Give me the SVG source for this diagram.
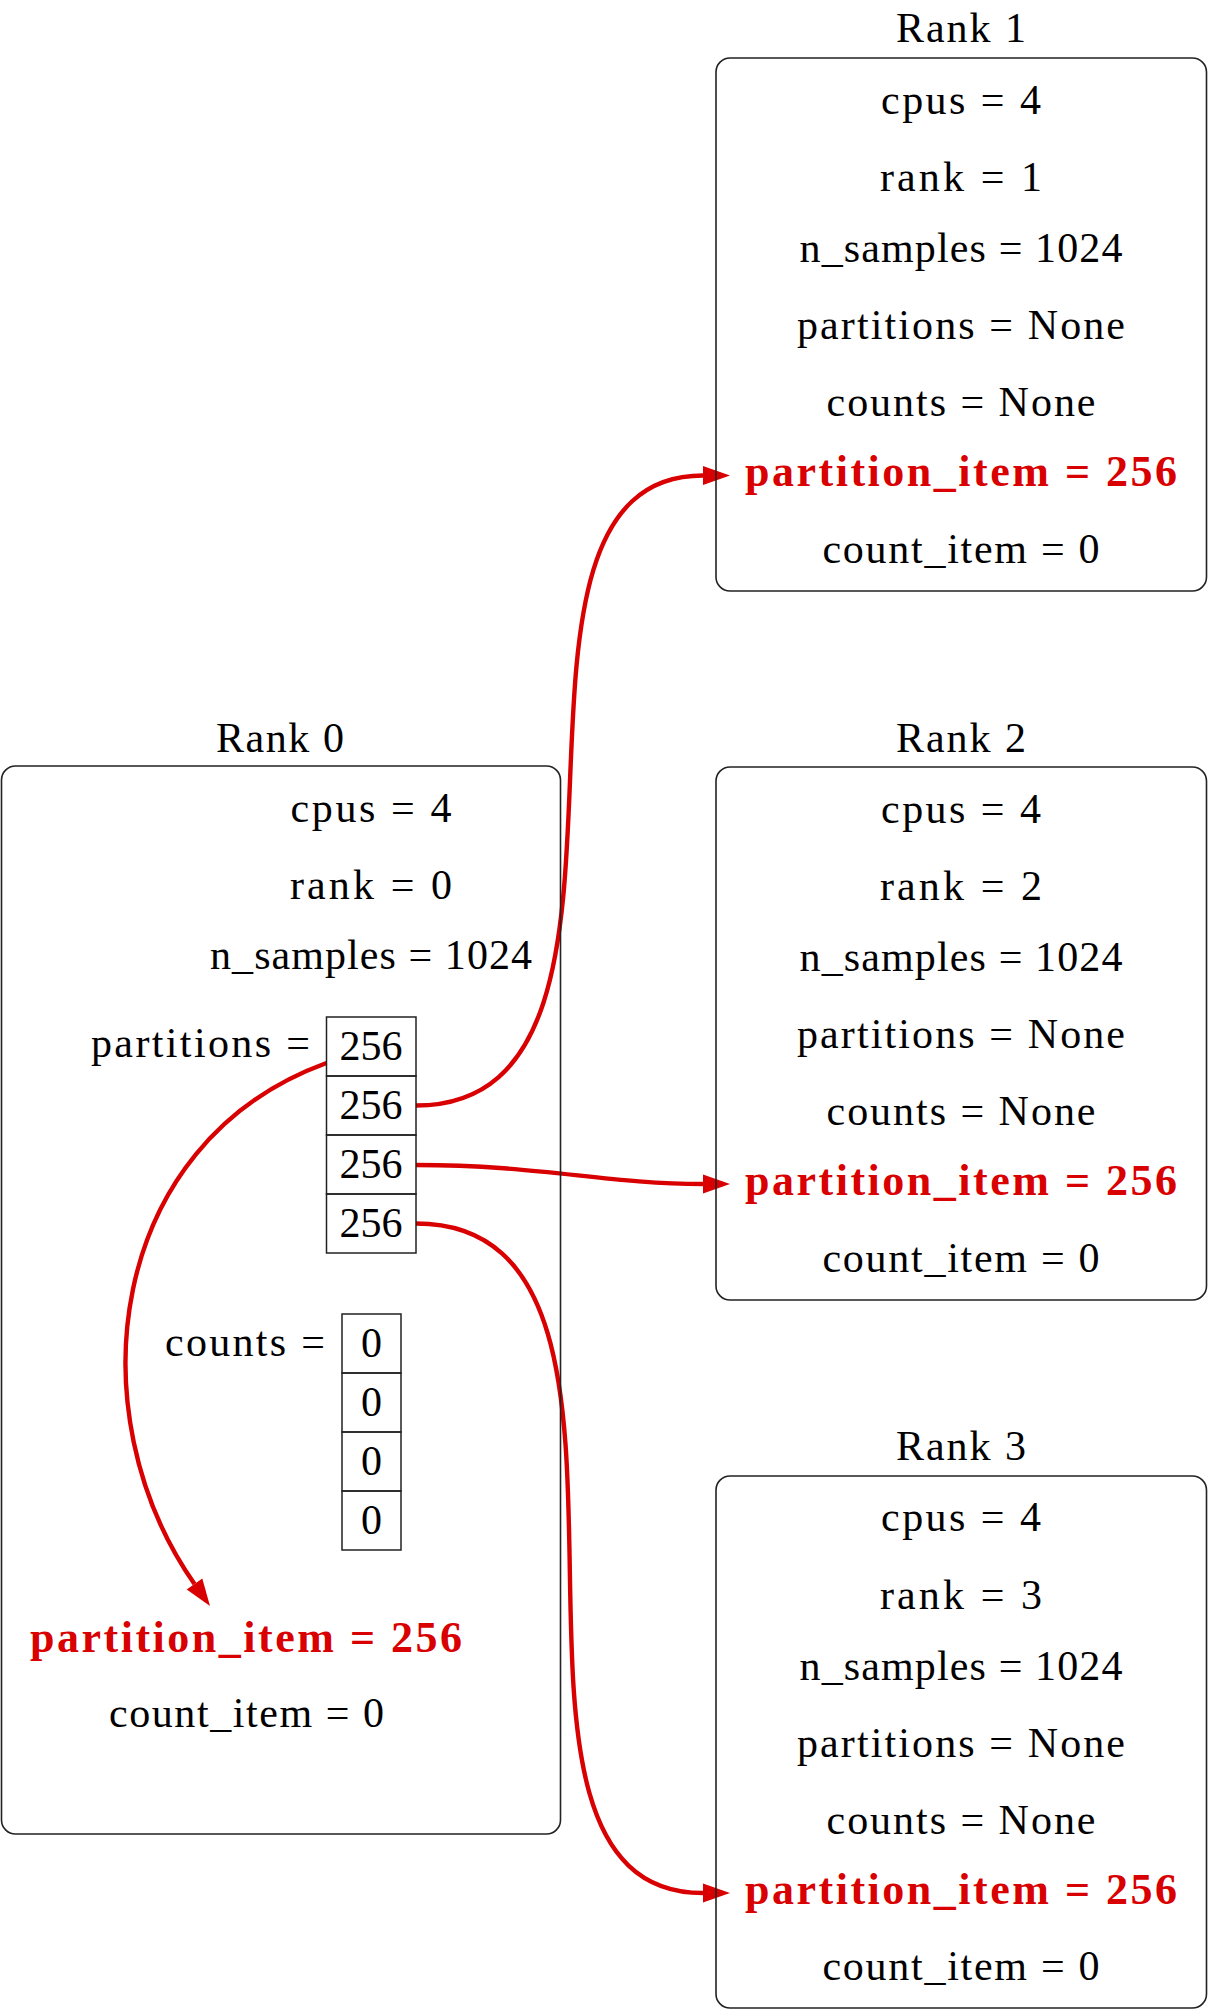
<svg xmlns="http://www.w3.org/2000/svg" width="1208" height="2010" viewBox="0 0 1208 2010">
  <style>
    .t { font-family: "Liberation Serif", "Times New Roman", serif; font-size: 42px; fill: #000; text-anchor: middle; }
    .hi { font-weight: bold; font-size: 44px; fill: #d80000; }
    .box { fill: none; stroke: #222; stroke-width: 1.6; }
    .cell { fill: none; stroke: #222; stroke-width: 1.5; }
    .arrow { fill: none; stroke: #d80000; stroke-width: 4.4; marker-end: url(#head); }
  </style>
  <defs>
    <marker id="head" markerUnits="userSpaceOnUse" markerWidth="30" markerHeight="22" refX="0" refY="9.5" orient="auto" overflow="visible">
      <path d="M0,0 L27,9.5 L0,19 Z" fill="#d80000"/>
    </marker>
  </defs>

  <rect width="1208" height="2010" fill="#fff"/>

  <!-- scatter of partitions: rank 0 array cells to each rank's partition_item -->
  <g id="connectors">
    <path class="arrow" d="M326.5,1063 C105.6,1143.4 75.1,1413.5 194.5,1584"/>
    <path class="arrow" d="M416,1105.5 C691,1105.5 455,475.5 703,475.5"/>
    <path class="arrow" d="M416,1165 C539,1165 607,1184 703,1184"/>
    <path class="arrow" d="M416,1223.5 C705.5,1223.5 440.5,1893 703,1893"/>
  </g>

  <!-- rank 0: root process holding the full arrays -->
  <g id="rank0">
    <text class="t" x="280" y="752" textLength="128" lengthAdjust="spacing">Rank 0</text>
    <rect class="box" x="1.5" y="766" width="559" height="1068" rx="14"/>
    <text class="t" x="371" y="822" textLength="161" lengthAdjust="spacing">cpus = 4</text>
    <text class="t" x="371" y="899" textLength="162" lengthAdjust="spacing">rank = 0</text>
    <text class="t" x="371" y="969" textLength="322" lengthAdjust="spacing">n_samples = 1024</text>
    <text class="t" x="200.5" y="1057" textLength="219" lengthAdjust="spacing">partitions =</text>
    <g id="rank0-partitions">
      <rect class="cell" x="326.5" y="1017" width="89.5" height="59"/>
      <rect class="cell" x="326.5" y="1076" width="89.5" height="59"/>
      <rect class="cell" x="326.5" y="1135" width="89.5" height="59"/>
      <rect class="cell" x="326.5" y="1194" width="89.5" height="59"/>
      <text class="t" x="371" y="1060">256</text>
      <text class="t" x="371" y="1119">256</text>
      <text class="t" x="371" y="1178">256</text>
      <text class="t" x="371" y="1237">256</text>
    </g>
    <text class="t" x="245" y="1356" textLength="160" lengthAdjust="spacing">counts =</text>
    <g id="rank0-counts">
      <rect class="cell" x="342" y="1314" width="59" height="59"/>
      <rect class="cell" x="342" y="1373" width="59" height="59"/>
      <rect class="cell" x="342" y="1432" width="59" height="59"/>
      <rect class="cell" x="342" y="1491" width="59" height="59"/>
      <text class="t" x="371.5" y="1357">0</text>
      <text class="t" x="371.5" y="1416">0</text>
      <text class="t" x="371.5" y="1475">0</text>
      <text class="t" x="371.5" y="1534">0</text>
    </g>
    <text class="t hi" x="246" y="1652" textLength="432" lengthAdjust="spacing">partition_item = 256</text>
    <text class="t" x="246.5" y="1727" textLength="275" lengthAdjust="spacing">count_item = 0</text>
  </g>

  <!-- rank 1 -->
  <g id="rank1">
    <text class="t" x="961" y="42" textLength="130" lengthAdjust="spacing">Rank 1</text>
    <rect class="box" x="716" y="58" width="490.5" height="533" rx="14"/>
    <text class="t" x="961" y="114" textLength="160" lengthAdjust="spacing">cpus = 4</text>
    <text class="t" x="961" y="191" textLength="162" lengthAdjust="spacing">rank = 1</text>
    <text class="t" x="961" y="262" textLength="323" lengthAdjust="spacing">n_samples = 1024</text>
    <text class="t" x="961" y="339" textLength="328" lengthAdjust="spacing">partitions = None</text>
    <text class="t" x="961" y="416" textLength="269" lengthAdjust="spacing">counts = None</text>
    <text class="t hi" x="961" y="486" textLength="432" lengthAdjust="spacing">partition_item = 256</text>
    <text class="t" x="961" y="563" textLength="277" lengthAdjust="spacing">count_item = 0</text>
  </g>

  <!-- rank 2 -->
  <g id="rank2">
    <text class="t" x="961" y="752" textLength="130" lengthAdjust="spacing">Rank 2</text>
    <rect class="box" x="716" y="767" width="490.5" height="533" rx="14"/>
    <text class="t" x="961" y="823" textLength="160" lengthAdjust="spacing">cpus = 4</text>
    <text class="t" x="961" y="900" textLength="162" lengthAdjust="spacing">rank = 2</text>
    <text class="t" x="961" y="971" textLength="323" lengthAdjust="spacing">n_samples = 1024</text>
    <text class="t" x="961" y="1048" textLength="328" lengthAdjust="spacing">partitions = None</text>
    <text class="t" x="961" y="1125" textLength="269" lengthAdjust="spacing">counts = None</text>
    <text class="t hi" x="961" y="1195" textLength="432" lengthAdjust="spacing">partition_item = 256</text>
    <text class="t" x="961" y="1272" textLength="277" lengthAdjust="spacing">count_item = 0</text>
  </g>

  <!-- rank 3 -->
  <g id="rank3">
    <text class="t" x="961" y="1460" textLength="130" lengthAdjust="spacing">Rank 3</text>
    <rect class="box" x="716" y="1476" width="490.5" height="532" rx="14"/>
    <text class="t" x="961" y="1531" textLength="160" lengthAdjust="spacing">cpus = 4</text>
    <text class="t" x="961" y="1609" textLength="162" lengthAdjust="spacing">rank = 3</text>
    <text class="t" x="961" y="1680" textLength="323" lengthAdjust="spacing">n_samples = 1024</text>
    <text class="t" x="961" y="1757" textLength="328" lengthAdjust="spacing">partitions = None</text>
    <text class="t" x="961" y="1834" textLength="269" lengthAdjust="spacing">counts = None</text>
    <text class="t hi" x="961" y="1904" textLength="432" lengthAdjust="spacing">partition_item = 256</text>
    <text class="t" x="961" y="1980" textLength="277" lengthAdjust="spacing">count_item = 0</text>
  </g>
</svg>
